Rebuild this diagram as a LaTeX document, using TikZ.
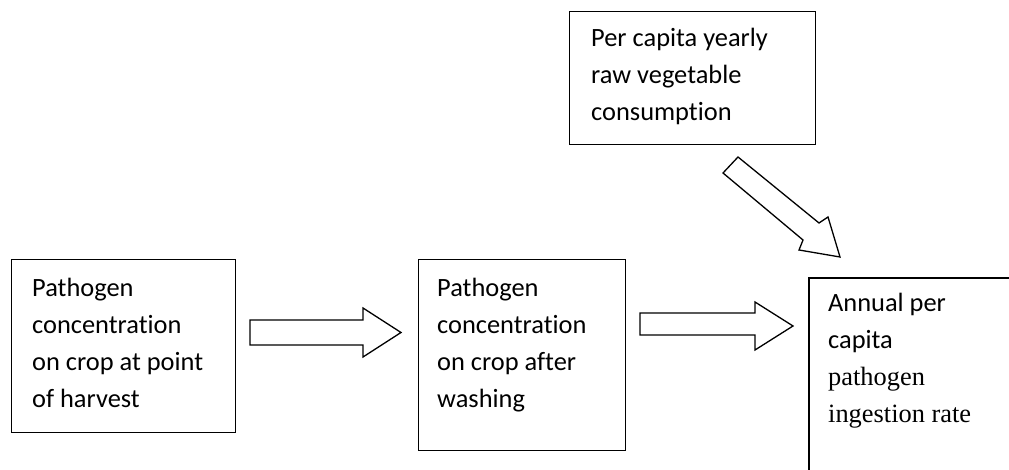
\documentclass[tikz,border=0pt]{standalone}
\usepackage{fontspec}
\setmainfont{Carlito}[Ligatures={NoCommon}]
\newfontfamily\timesfont{Liberation Serif}
\begin{document}
\begin{tikzpicture}[x=1pt,y=1pt,
  box/.style={draw=black, line width=1.3pt, rectangle, inner sep=0pt},
  txt/.style={anchor=base west, inner sep=0pt},
  blockarrow/.style={draw=black, line width=1.3pt, fill=white, line join=miter}]
\newcommand{\bodyfont}{\fontsize{26.4}{36.8}\selectfont}
\useasboundingbox (0,0) rectangle (1009,470);
\clip (0,0) rectangle (1009,470);

% boxes
\node[box, minimum width=224pt, minimum height=173pt, anchor=north west] (harvest) at (11,211) {};
\node[box, minimum width=206.6pt, minimum height=191pt, anchor=north west] (washed) at (418,211) {};
\node[box, minimum width=246pt, minimum height=133pt, anchor=north west] (consumption) at (569,459) {};
% the result box runs off the page on the right and at the bottom
\node[box, line width=2pt, minimum width=260pt, minimum height=240pt, anchor=north west] (ingestion) at (808,193) {};

% box texts
\node[txt] (t1) at (32,173) {\parbox[t]{210pt}{\raggedright\bodyfont
  Pathogen\\ concentration\\ on crop at point\\ of harvest}};
\node[txt] (t2) at (437,173) {\parbox[t]{185pt}{\raggedright\bodyfont
  Pathogen\\ concentration\\ on crop after\\ washing}};
\node[txt] (t3) at (591,423) {\parbox[t]{220pt}{\raggedright\bodyfont
  Per capita yearly\\ raw vegetable\\ consumption}};
\node[txt] (t4) at (828,158) {\parbox[t]{180pt}{\raggedright\bodyfont
  Annual per\\ capita\\ {\timesfont pathogen}\\ {\timesfont ingestion rate}}};

% block arrows
\draw[blockarrow] (250,150) -- (363,150) -- (363,162) -- (401,137.5)
  -- (363,113) -- (363,125) -- (250,125) -- cycle;
\draw[blockarrow] (640,157) -- (755,157) -- (755,168) -- (793,144)
  -- (755,120) -- (755,135) -- (640,135) -- cycle;
\draw[blockarrow] (738,313) -- (819,247) -- (828,253) -- (840,213)
  -- (799,220) -- (803,230) -- (723,297) -- cycle;
\end{tikzpicture}
\end{document}
